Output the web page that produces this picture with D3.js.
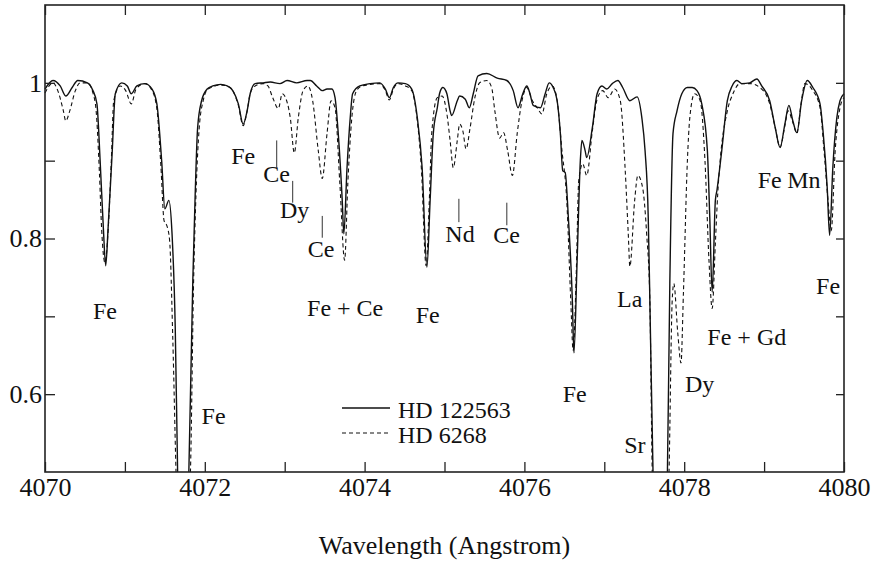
<!DOCTYPE html>
<html>
<head>
<meta charset="utf-8">
<script src="https://cdn.jsdelivr.net/npm/d3@7"></script>
</head>
<body style="margin:0">
<script>
const width = 872;
const height = 563;
const margin = { top: 5, right: 28, bottom: 91, left: 45 };
const serif = "'Liberation Serif'";

// HD 122563 (solid) - wavelength, normalised flux
const hd122563 = [
  [4070.00, 0.992], [4070.10, 1.003], [4070.19, 0.996], [4070.26, 0.983], [4070.34, 0.994],
  [4070.41, 1.003], [4070.53, 1.000], [4070.60, 0.990], [4070.65, 0.973], [4070.69, 0.900],
  [4070.73, 0.814], [4070.76, 0.765], [4070.79, 0.814], [4070.84, 0.909], [4070.88, 0.986],
  [4070.96, 1.000], [4071.03, 0.996], [4071.08, 0.986], [4071.15, 0.996], [4071.25, 0.999],
  [4071.34, 0.992], [4071.40, 0.973], [4071.46, 0.900], [4071.50, 0.838], [4071.55, 0.849],
  [4071.59, 0.806], [4071.63, 0.686], [4071.66, 0.499], [4071.73, 0.300], [4071.80, 0.499],
  [4071.85, 0.746], [4071.88, 0.858], [4071.91, 0.942], [4071.96, 0.977], [4072.03, 0.992],
  [4072.10, 0.996], [4072.20, 0.998], [4072.28, 0.996], [4072.35, 0.990], [4072.42, 0.973],
  [4072.48, 0.947], [4072.53, 0.964], [4072.57, 0.987], [4072.63, 0.999], [4072.73, 1.000],
  [4072.82, 1.001], [4072.94, 0.999], [4073.03, 1.003], [4073.15, 1.000], [4073.28, 1.003],
  [4073.32, 1.003], [4073.40, 0.996], [4073.47, 0.990], [4073.53, 0.992], [4073.59, 0.992],
  [4073.63, 0.981], [4073.67, 0.935], [4073.72, 0.849], [4073.74, 0.806], [4073.78, 0.891],
  [4073.82, 0.955], [4073.85, 0.986], [4073.94, 0.996], [4074.07, 0.999], [4074.19, 1.000],
  [4074.26, 0.992], [4074.31, 0.981], [4074.36, 0.994], [4074.42, 1.000], [4074.51, 0.999],
  [4074.59, 0.992], [4074.66, 0.955], [4074.72, 0.891], [4074.78, 0.763], [4074.82, 0.849],
  [4074.86, 0.935], [4074.91, 0.968], [4074.94, 0.987], [4074.98, 0.994], [4075.03, 0.986],
  [4075.07, 0.964], [4075.09, 0.958], [4075.16, 0.977], [4075.19, 0.983], [4075.26, 0.979],
  [4075.31, 0.968], [4075.36, 0.986], [4075.42, 1.009], [4075.53, 1.012], [4075.66, 1.006],
  [4075.78, 1.003], [4075.86, 0.990], [4075.92, 0.968], [4075.98, 0.986], [4076.03, 0.996],
  [4076.07, 0.986], [4076.11, 0.971], [4076.20, 0.968], [4076.26, 0.986], [4076.31, 1.000],
  [4076.36, 0.994], [4076.41, 0.977], [4076.45, 0.935], [4076.48, 0.887], [4076.51, 0.885],
  [4076.55, 0.827], [4076.60, 0.721], [4076.62, 0.653], [4076.66, 0.772], [4076.70, 0.900],
  [4076.72, 0.926], [4076.76, 0.913], [4076.78, 0.904], [4076.85, 0.942], [4076.91, 0.986],
  [4076.97, 0.996], [4077.03, 0.992], [4077.10, 0.999], [4077.17, 1.003], [4077.23, 0.994],
  [4077.32, 0.977], [4077.41, 0.982], [4077.47, 0.955], [4077.51, 0.913], [4077.55, 0.827],
  [4077.57, 0.721], [4077.61, 0.499], [4077.70, 0.250], [4077.79, 0.499], [4077.82, 0.742],
  [4077.86, 0.935], [4077.91, 0.964], [4077.97, 0.986], [4078.04, 0.994], [4078.10, 0.994],
  [4078.16, 0.990], [4078.22, 0.973], [4078.29, 0.913], [4078.32, 0.827], [4078.35, 0.731],
  [4078.39, 0.849], [4078.41, 0.862], [4078.47, 0.913], [4078.54, 0.977], [4078.60, 0.996],
  [4078.66, 1.003], [4078.72, 0.999], [4078.82, 1.000], [4078.91, 1.005], [4078.97, 0.996],
  [4079.07, 0.977], [4079.14, 0.942], [4079.20, 0.917], [4079.26, 0.947], [4079.31, 0.971],
  [4079.36, 0.951], [4079.41, 0.936], [4079.47, 0.977], [4079.54, 1.003], [4079.61, 0.994],
  [4079.70, 0.973], [4079.74, 0.935], [4079.79, 0.865], [4079.82, 0.804], [4079.86, 0.891],
  [4079.91, 0.955], [4079.95, 0.977], [4080.00, 0.986]
];

// HD 6268 (dashed)
const hd6268 = [
  [4070.00, 0.987], [4070.10, 1.000], [4070.16, 0.990], [4070.23, 0.964], [4070.26, 0.951],
  [4070.31, 0.964], [4070.38, 0.990], [4070.44, 1.000], [4070.53, 1.000], [4070.60, 0.987],
  [4070.64, 0.964], [4070.68, 0.887], [4070.71, 0.810], [4070.75, 0.769], [4070.79, 0.810],
  [4070.83, 0.900], [4070.86, 0.977], [4070.94, 0.996], [4071.01, 0.990], [4071.08, 0.973],
  [4071.14, 0.992], [4071.25, 0.999], [4071.34, 0.990], [4071.40, 0.967], [4071.45, 0.894],
  [4071.49, 0.823], [4071.53, 0.815], [4071.56, 0.797], [4071.60, 0.669], [4071.64, 0.499],
  [4071.71, 0.300], [4071.82, 0.499], [4071.86, 0.746], [4071.89, 0.858], [4071.93, 0.942],
  [4071.98, 0.977], [4072.04, 0.992], [4072.20, 0.997], [4072.28, 0.996], [4072.35, 0.990],
  [4072.42, 0.971], [4072.48, 0.945], [4072.53, 0.964], [4072.57, 0.987], [4072.63, 0.996],
  [4072.73, 0.999], [4072.79, 0.996], [4072.85, 0.981], [4072.92, 0.967], [4072.97, 0.986],
  [4073.00, 0.983], [4073.07, 0.955], [4073.12, 0.910], [4073.17, 0.955], [4073.23, 0.990],
  [4073.29, 0.996], [4073.35, 0.977], [4073.42, 0.913], [4073.47, 0.877], [4073.53, 0.935],
  [4073.58, 0.977], [4073.63, 0.968], [4073.69, 0.871], [4073.75, 0.772], [4073.79, 0.871],
  [4073.84, 0.955], [4073.90, 0.990], [4073.97, 0.996], [4074.19, 0.999], [4074.26, 0.990],
  [4074.31, 0.978], [4074.36, 0.992], [4074.42, 0.999], [4074.51, 0.996], [4074.59, 0.990],
  [4074.66, 0.951], [4074.71, 0.891], [4074.77, 0.765], [4074.81, 0.849], [4074.84, 0.935],
  [4074.91, 0.981], [4074.97, 0.983], [4075.03, 0.960], [4075.07, 0.926], [4075.11, 0.891],
  [4075.16, 0.926], [4075.19, 0.947], [4075.23, 0.938], [4075.27, 0.915], [4075.32, 0.942],
  [4075.38, 0.981], [4075.44, 1.000], [4075.53, 1.003], [4075.59, 0.994], [4075.63, 0.964],
  [4075.69, 0.929], [4075.74, 0.936], [4075.79, 0.913], [4075.85, 0.881], [4075.91, 0.935],
  [4075.97, 0.977], [4076.03, 0.994], [4076.10, 0.977], [4076.16, 0.968], [4076.22, 0.960],
  [4076.28, 0.986], [4076.35, 0.996], [4076.41, 0.977], [4076.47, 0.913], [4076.53, 0.849],
  [4076.58, 0.721], [4076.61, 0.656], [4076.65, 0.759], [4076.68, 0.874], [4076.73, 0.896],
  [4076.78, 0.881], [4076.85, 0.938], [4076.91, 0.979], [4076.98, 0.990], [4077.05, 0.981],
  [4077.13, 0.992], [4077.20, 0.977], [4077.26, 0.891], [4077.30, 0.806], [4077.32, 0.764],
  [4077.38, 0.849], [4077.42, 0.881], [4077.48, 0.865], [4077.53, 0.806], [4077.57, 0.721],
  [4077.60, 0.499], [4077.70, 0.250], [4077.81, 0.499], [4077.85, 0.721], [4077.87, 0.742],
  [4077.92, 0.678], [4077.96, 0.640], [4077.99, 0.729], [4078.04, 0.900], [4078.07, 0.955],
  [4078.13, 0.986], [4078.20, 0.977], [4078.26, 0.900], [4078.31, 0.772], [4078.35, 0.710],
  [4078.39, 0.794], [4078.42, 0.858], [4078.45, 0.900], [4078.54, 0.964], [4078.61, 0.986],
  [4078.70, 0.999], [4078.82, 0.999], [4078.97, 0.992], [4079.07, 0.973], [4079.14, 0.942],
  [4079.20, 0.917], [4079.26, 0.945], [4079.30, 0.964], [4079.36, 0.949], [4079.41, 0.935],
  [4079.46, 0.971], [4079.51, 0.999], [4079.61, 0.990], [4079.70, 0.968], [4079.75, 0.913],
  [4079.80, 0.849], [4079.84, 0.810], [4079.89, 0.913], [4079.95, 0.968], [4080.00, 0.981]
];

// line identifications: text, wavelength, flux (label left edge / baseline)
const lineLabels = [
  ["Fe", 4070.60, 0.696], ["Fe", 4071.96, 0.562], ["Fe", 4072.33, 0.896],
  ["Ce", 4072.73, 0.872], ["Dy", 4072.94, 0.826], ["Ce", 4073.29, 0.776],
  ["Fe + Ce", 4073.28, 0.701], ["Fe", 4074.64, 0.691], ["Nd", 4075.01, 0.796],
  ["Ce", 4075.61, 0.794], ["Fe", 4076.48, 0.590], ["La", 4077.16, 0.712],
  ["Sr", 4077.25, 0.524], ["Dy", 4078.01, 0.603], ["Fe + Gd", 4078.29, 0.663],
  ["Fe", 4078.92, 0.865], ["Mn", 4079.29, 0.865], ["Fe", 4079.65, 0.729]
];
// short marker lines: wavelength, flux top, flux bottom
const labelMarks = [
  [4072.90, 0.926, 0.890], [4073.10, 0.874, 0.846], [4073.47, 0.829, 0.801],
  [4075.18, 0.851, 0.821], [4075.78, 0.846, 0.817]
];

const xTicks = d3.range(4070, 4081, 1);
const yTicks = [0.6, 0.7, 0.8, 0.9, 1.0];
const yLabelled = [0.6, 0.8, 1.0];

const svg = d3.select("body").append("svg")
    .attr("width", width)
    .attr("height", height);

const x = d3.scaleLinear().domain([4070, 4080]).range([margin.left, width - margin.right]);
const y = d3.scaleLinear().domain([0.5, 1.1]).range([height - margin.bottom, margin.top]);

const line = d3.line()
    .x(d => x(d[0]))
    .y(d => y(d[1]))
    .curve(d3.curveMonotoneX);

svg.append("path")
    .datum(hd6268)
    .attr("fill", "none")
    .attr("stroke", "#111")
    .attr("stroke-width", 1.1)
    .attr("stroke-dasharray", "4,3")
    .attr("d", line);

svg.append("path")
    .datum(hd122563)
    .attr("fill", "none")
    .attr("stroke", "#111")
    .attr("stroke-width", 1.4)
    .attr("d", line);

// white band under the plot hides the deep cores that run past 0.5
svg.append("rect")
    .attr("x", 0).attr("y", height - margin.bottom)
    .attr("width", width).attr("height", margin.bottom)
    .attr("fill", "#fff");

// frame
svg.append("rect")
    .attr("x", margin.left).attr("y", margin.top)
    .attr("width", width - margin.left - margin.right)
    .attr("height", height - margin.top - margin.bottom)
    .attr("fill", "none")
    .attr("stroke", "#222")
    .attr("stroke-width", 1.6);

// axes, ticks pointing inward
function styleAxis(g) {
  g.attr("font-family", null).attr("font-size", null);
  g.select(".domain").remove();
  g.selectAll(".tick line").attr("stroke", "#222").attr("stroke-width", 1.3);
  g.selectAll(".tick text")
      .style("font-family", serif)
      .style("font-size", "26px")
      .attr("fill", "#111");
}

svg.append("g")
    .attr("transform", `translate(0,${height - margin.bottom})`)
    .call(d3.axisBottom(x).tickValues(xTicks).tickSize(-10).tickPadding(6)
      .tickFormat(d => (d % 2 === 0 ? d : "")))
    .call(styleAxis);

svg.append("g")
    .attr("transform", `translate(0,${margin.top})`)
    .call(d3.axisTop(x).tickValues(xTicks).tickSize(-10).tickFormat(""))
    .call(styleAxis);

svg.append("g")
    .attr("transform", `translate(${margin.left},0)`)
    .call(d3.axisLeft(y).tickValues(yTicks).tickSize(-10).tickPadding(3)
      .tickFormat(d => yLabelled.some(v => Math.abs(v - d) < 1e-6) ? (d === 1 ? "1" : d.toFixed(1)) : ""))
    .call(styleAxis);

svg.append("g")
    .attr("transform", `translate(${width - margin.right},0)`)
    .call(d3.axisRight(y).tickValues(yTicks).tickSize(-8).tickFormat(""))
    .call(styleAxis);

// line identifications
svg.selectAll("text.ident")
  .data(lineLabels)
  .join("text")
    .attr("class", "ident")
    .attr("x", d => x(d[1]))
    .attr("y", d => y(d[2]))
    .style("font-family", serif)
    .style("font-size", "24px")
    .attr("fill", "#111")
    .text(d => d[0]);

svg.selectAll("line.mark")
  .data(labelMarks)
  .join("line")
    .attr("class", "mark")
    .attr("x1", d => x(d[0])).attr("x2", d => x(d[0]))
    .attr("y1", d => y(d[1])).attr("y2", d => y(d[2]))
    .attr("stroke", "#333")
    .attr("stroke-width", 1);

// legend
[["HD 122563", null], ["HD 6268", "4,3"]].forEach((s, i) => {
  svg.append("line")
      .attr("x1", 342).attr("x2", 390)
      .attr("y1", 408 + i * 25).attr("y2", 408 + i * 25)
      .attr("stroke", "#111")
      .attr("stroke-width", s[1] ? 1.1 : 1.4)
      .attr("stroke-dasharray", s[1]);
  svg.append("text")
      .attr("x", 398).attr("y", 418 + i * 25)
      .style("font-family", serif)
      .style("font-size", "24px")
      .attr("fill", "#111")
      .text(s[0]);
});

// x axis title
svg.append("text")
    .attr("x", (margin.left + width - margin.right) / 2)
    .attr("y", 554)
    .attr("text-anchor", "middle")
    .style("font-family", serif)
    .style("font-size", "26px")
    .attr("fill", "#111")
    .text("Wavelength (Angstrom)");
</script>
</body>
</html>
